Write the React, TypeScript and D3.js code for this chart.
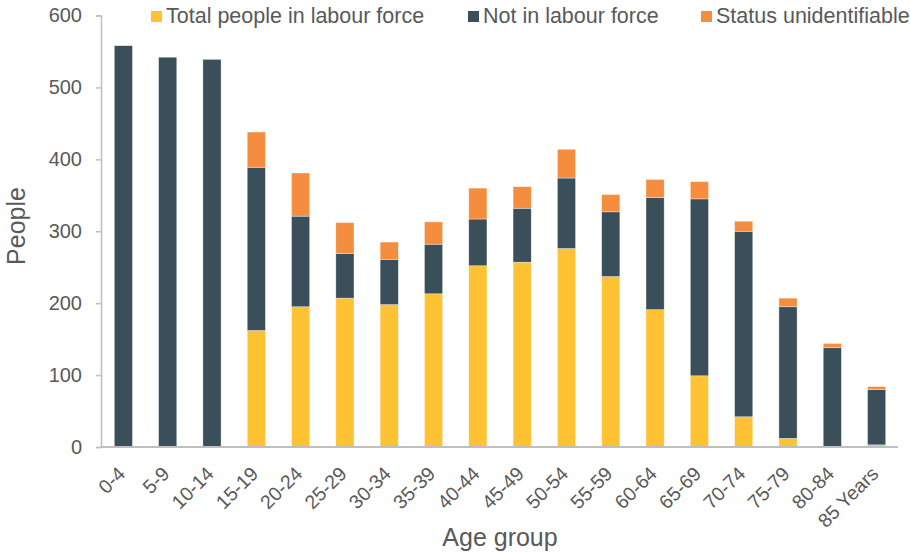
import React, { useEffect } from "react";
import * as d3 from "d3";

const ageGroups = [
  "0-4", "5-9", "10-14", "15-19", "20-24", "25-29", "30-34", "35-39", "40-44",
  "45-49", "50-54", "55-59", "60-64", "65-69", "70-74", "75-79", "80-84", "85 Years",
];
const inLabourForce = [0, 0, 0, 162, 195, 207, 198, 213, 252, 257, 276, 237, 191, 99, 42, 12, 0, 3];
const notInLabourForce = [558, 542, 539, 227, 126, 62, 63, 69, 65, 75, 98, 90, 156, 246, 258, 183, 138, 77];
const statusUnidentifiable = [0, 0, 0, 49, 60, 43, 24, 31, 43, 30, 40, 24, 25, 24, 14, 12, 6, 4];
const yTicks = [0, 100, 200, 300, 400, 500, 600];

const seriesNames = ["Total people in labour force", "Not in labour force", "Status unidentifiable"];
const seriesColors = ["#FFC233", "#3A4F5A", "#F58D3E"];

const width = 910;
const height = 553;
const margin = { top: 15.5, right: 11, bottom: 107, left: 101 };
const font = "'Liberation Sans', Arial, sans-serif";
const textColor = "#595959";

export default function App() {
  const svgRef = React.useRef(null);

  useEffect(() => {
    const svg = d3.select(svgRef.current);
    svg.selectAll("*").remove();

    const rows = ageGroups.map((g, i) => ({
      group: g,
      lf: inLabourForce[i],
      nilf: notInLabourForce[i],
      unid: statusUnidentifiable[i],
    }));
    const stack = d3.stack<any>().keys(["lf", "nilf", "unid"]);
    const layers = stack(rows);

    const x = d3
      .scaleBand()
      .domain(ageGroups)
      .range([margin.left, width - margin.right])
      .paddingInner(0.59)
      .paddingOuter(0.3);
    const y = d3
      .scaleLinear()
      .domain([0, 600])
      .range([height - margin.bottom + 1, margin.top]);

    // y axis
    const yAxis = svg
      .append("g")
      .attr("transform", `translate(${margin.left},0)`)
      .call(d3.axisLeft(y).tickValues(yTicks).tickSize(5).tickPadding(14));
    yAxis.select(".domain").attr("stroke", "#BFBFBF").attr("stroke-width", 1.5);
    yAxis.selectAll(".tick line").attr("stroke", "#BFBFBF").attr("stroke-width", 1.5);
    yAxis
      .selectAll(".tick text")
      .attr("fill", textColor)
      .style("font-family", font)
      .style("font-size", "20px");

    // bars
    svg
      .append("g")
      .selectAll("g")
      .data(layers)
      .enter()
      .append("g")
      .attr("fill", (d, i) => seriesColors[i])
      .selectAll("rect")
      .data((d) => d)
      .enter()
      .append("rect")
      .attr("x", (d: any) => x(d.data.group) as number)
      .attr("width", x.bandwidth())
      .attr("y", (d) => y(d[1]))
      .attr("height", (d) => Math.max(0, y(d[0]) - y(d[1])))
      .attr("stroke", "#ffffff")
      .attr("stroke-opacity", 0.6)
      .attr("stroke-width", 0.6);

    // x axis
    const xAxis = svg
      .append("g")
      .attr("transform", `translate(0,${y(0)})`)
      .call(d3.axisBottom(x).tickSize(0).tickPadding(0));
    xAxis
      .select(".domain")
      .attr("stroke", "#BFBFBF")
      .attr("stroke-width", 2)
      .attr("d", `M${margin.left},0H${width - margin.right - 1}`);
    xAxis
      .selectAll(".tick text")
      .attr("fill", textColor)
      .style("font-family", font)
      .style("font-size", "19.5px")
      .attr("text-anchor", "end")
      .attr("y", 0)
      .attr("dy", "0")
      .attr("transform", "translate(3,28) rotate(-45)");

    // axis titles
    svg
      .append("text")
      .attr("x", (margin.left + width - margin.right) / 2)
      .attr("y", 546)
      .attr("text-anchor", "middle")
      .attr("fill", textColor)
      .style("font-family", font)
      .style("font-size", "25px")
      .text("Age group");
    svg
      .append("text")
      .attr("transform", `translate(25,226) rotate(-90)`)
      .attr("text-anchor", "middle")
      .attr("fill", textColor)
      .style("font-family", font)
      .style("font-size", "25px")
      .text("People");

    // legend
    const legendX = [151, 468, 701];
    const legend = svg
      .append("g")
      .selectAll("g")
      .data(seriesNames)
      .enter()
      .append("g")
      .attr("transform", (d, i) => `translate(${legendX[i]},11)`);
    legend
      .append("rect")
      .attr("width", 11)
      .attr("height", 11)
      .attr("fill", (d, i) => seriesColors[i]);
    legend
      .append("text")
      .attr("x", 15)
      .attr("y", 11.5)
      .attr("fill", textColor)
      .style("font-family", font)
      .style("font-size", "21.5px")
      .text((d) => d);
  }, []);

  return (
    <div style={{ position: "absolute", left: 0, top: 0 }}>
      <svg ref={svgRef} width={width} height={height} style={{ display: "block", background: "#fff" }} />
    </div>
  );
}
